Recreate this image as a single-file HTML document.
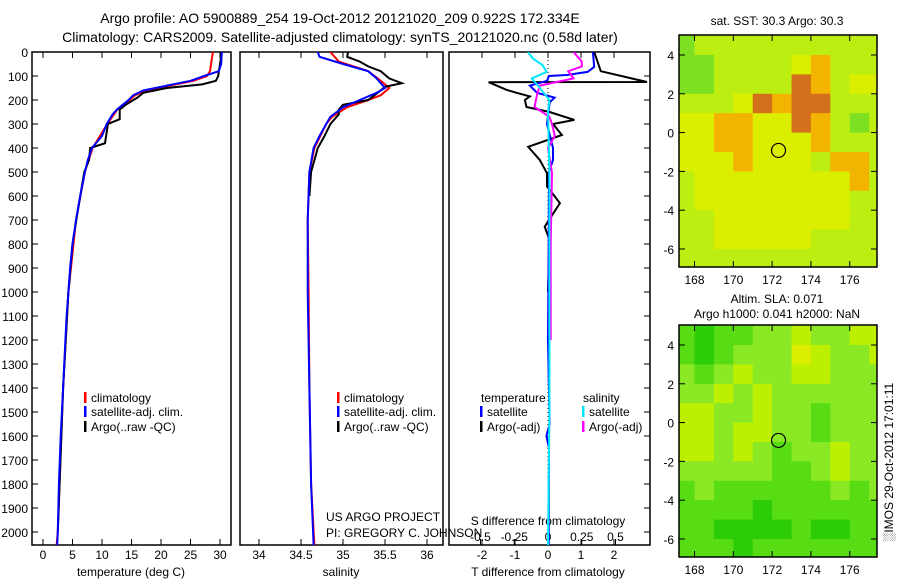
<!DOCTYPE html>
<html><head><meta charset="utf-8"><style>
html,body{margin:0;padding:0;background:#fff;}
svg{display:block;font-family:"Liberation Sans",sans-serif;}
</style></head><body>
<svg id="chart" width="900" height="580" viewBox="0 0 900 580" xmlns="http://www.w3.org/2000/svg"></svg>
<script>
// ---------- data ----------
const tempDepthBlue = [0,50,80,100,120,140,160,180,200,220,240,260,300,350,400,450,500,600,700,800,900,1000,1100,1200,1400,1600,1800,2000,2055];
const tempBlue = [30.3,30.2,29.8,27.3,25,21,17,15.3,14.5,13.5,12.5,11.8,10.8,10,8.3,7.6,7.1,6.3,5.6,5,4.6,4.3,4,3.8,3.4,3,2.7,2.5,2.4];
const tempDepthRed = [0,80,100,120,140,160,180,200,240,300,400,500,700,1000,1400,2000,2055];
const tempRed = [28.8,28.3,27.8,25.5,21.5,17.5,15.6,14.7,12.6,10.9,8.4,7.1,5.6,4.3,3.4,2.5,2.3];
const tempDepthBlack = [0,100,120,135,150,170,190,220,240,280,300,380,400,450,500,600,800,1000,1400,2000];
const tempBlack = [30.3,29.7,29.3,27,21,17,16,14,13,13,11,10.5,8,7.8,7,6.3,5,4.3,3.4,2.5];

const salDepthBlue = [0,20,50,80,110,150,170,200,230,270,300,350,400,500,700,1000,1400,1800,2055];
const salBlue = [34.70,34.72,35.0,35.3,35.4,35.5,35.4,35.2,35.0,34.85,34.8,34.72,34.65,34.6,34.58,34.58,34.6,34.62,34.65];
const salDepthRed = [0,40,80,120,150,180,200,230,270,300,400,500,700,1000,1400,1800,2055];
const salRed = [34.85,34.95,35.3,35.45,35.55,35.45,35.3,35.05,34.87,34.8,34.66,34.6,34.58,34.59,34.6,34.62,34.66];
const salDepthBlack = [0,20,40,60,80,110,130,145,160,200,220,240,260,300,350,400,500,600];
const salBlack = [35.06,35.05,35.2,35.3,35.45,35.55,35.7,35.5,35.45,35.3,35.0,34.95,34.95,34.85,34.78,34.7,34.62,34.6];

const tdDepthSat = [0,62,83,96,100,120,140,170,190,210,300,400,450,500,800,1200,1550,1600,1650,2055];
const tdSat = [1.36,1.4,1.2,0.57,0.03,-0.03,-0.55,-0.33,0.2,0.05,-0.03,0.15,0.15,0.03,0.02,0.0,0.05,-0.05,0.03,0.02];
const tdDepthArgo = [0,40,80,125,126,158,170,185,200,229,250,283,300,346,395,450,505,560,630,728,783,900,1000];
const tdArgo = [1.4,1.5,1.6,3.0,-1.8,-1.25,-0.95,-0.55,-0.7,-0.65,0.05,0.8,0.15,0.42,-0.6,-0.25,-0.03,-0.03,0.36,-0.1,0.05,0.02,0.0];
const sdDepthSat = [0,28,55,83,110,150,200,250,500,1000,1500,2055];
const sdSat = [-0.15,-0.11,-0.04,-0.01,-0.12,-0.06,0.01,0.0,0.01,0.01,0.01,0.0];
const sdDepthArgo = [0,20,40,60,80,110,140,175,229,270,300,350,400,505,800,1200];
const sdArgo = [0.19,0.22,0.25,0.25,0.15,0.19,-0.06,-0.08,-0.1,0.01,0.03,0.05,0.0,0.03,0.02,0.02];

const tempTicks = [0,5,10,15,20,25,30];
const salTicks = [34,34.5,35,35.5,36];
const salTickLabels = ["34","34.5","35","35.5","36"];
const tdTicks = [-2,-1,0,1,2];
const sdTicks = [-0.5,-0.25,0,0.25,0.5];
const sdTickLabels = ["-0.5","-0.25","0","0.25","0.5"];
const depthTicks = [0,100,200,300,400,500,600,700,800,900,1000,1100,1200,1300,1400,1500,1600,1700,1800,1900,2000];
const lonTicks = [168,170,172,174,176];
const latTicks = [4,2,0,-2,-4,-6];

// map grids: 1-degree cells, lon 167..178, lat rows 5..-7
const sstGrid = [
[0,1,1,1,1,1,1,1,1,1,1],
[0,0,1,1,1,1,2,3,1,1,1],
[0,0,1,1,1,1,4,3,1,2,2],
[1,1,1,2,4,3,4,4,1,1,1],
[2,2,3,3,2,2,4,3,1,0,1],
[2,2,3,3,2,2,2,3,1,1,1],
[2,2,2,3,2,2,2,1,3,3,1],
[1,2,2,2,2,2,2,2,2,3,1],
[1,2,2,2,2,2,2,2,2,1,1],
[1,1,2,2,2,2,2,2,2,1,1],
[1,1,2,2,2,2,2,1,1,1,1],
[1,1,1,1,1,1,1,1,1,1,1]];
const slaGrid = [
[1,0,1,1,2,2,3,2,2,3,3],
[1,0,1,2,2,2,4,3,2,2,3],
[2,1,2,3,2,2,3,3,2,2,2],
[2,2,3,2,3,2,2,2,2,2,2],
[3,3,2,2,3,2,2,1,2,2,2],
[3,3,2,3,3,2,2,1,2,2,2],
[3,3,2,3,2,1,2,2,3,2,2],
[2,2,2,2,2,1,1,2,3,2,2],
[1,2,1,1,1,1,1,1,2,1,2],
[1,1,1,1,0,1,1,1,1,1,1],
[1,1,0,0,0,0,1,0,0,1,1],
[1,1,1,0,1,1,1,1,1,1,1]];
const sstColors = ["#7ee022","#bcee12","#dcee00","#f2b400","#d4701c"];
const slaColors = ["#2ccc08","#58dc14","#8ae824","#bcf000","#dcee00"];

// ---------- helpers ----------
const NS="http://www.w3.org/2000/svg";
const svg=document.getElementById('chart');
function el(tag,attrs,parent){const e=document.createElementNS(NS,tag);for(const k in attrs)e.setAttribute(k,attrs[k]);(parent||svg).appendChild(e);return e;}
function txt(x,y,s,anchor,size,parent){const t=el('text',{x:x,y:y,'text-anchor':anchor||'start','font-size':size||12,fill:'#000'},parent);t.textContent=s;return t;}

const TOP=52, BOT=545;
function yD(d){return TOP+d*0.24;}
const xT=v=>43+v*5.9;
const xS=v=>259+(v-34)*84;
const xTD=v=>548+v*33;
const xSD=v=>548+v*135;

function line(xs,ds,xf,color,w,name,clipId){
  let p='';for(let i=0;i<xs.length;i++){p+=(i?'L':'M')+xf(xs[i]).toFixed(1)+','+yD(ds[i]).toFixed(1);}
  const e=el('path',{d:p,fill:'none',stroke:color,'stroke-width':w,'clip-path':'url(#'+clipId+')'});
  
  
  return e;
}

const defs=el('defs',{});
function clip(id,x,y,w,h){const c=el('clipPath',{id:id},defs);el('rect',{x:x,y:y,width:w,height:h},c);}
clip('c1',32,TOP,199,BOT-TOP);clip('c2',240,TOP,203,BOT-TOP);clip('c3',449,TOP,201,BOT-TOP);
clip('m1',679,35,198,232);clip('m2',679,325,198,232);

// titles
const t1=txt(340,23,'Argo profile: AO 5900889_254 19-Oct-2012 20121020_209 0.922S 172.334E','middle',14);

const t2=txt(340,42,'Climatology: CARS2009. Satellite-adjusted climatology: synTS_20121020.nc (0.58d later)','middle',14);


// panels
const panels=[[32,231,'temperature-panel'],[240,443,'salinity-panel'],[449,650,'difference-panel']];
panels.forEach(p=>{const r=el('rect',{x:p[0],y:TOP,width:p[1]-p[0],height:BOT-TOP,fill:'none',stroke:'#000','stroke-width':1.5});
  });

// depth ticks
depthTicks.forEach(d=>{const y=yD(d);txt(28,y+5,String(d),'end',12);
  el('line',{x1:32,x2:38,y1:y,y2:y,stroke:'#000'});el('line',{x1:644,x2:650,y1:y,y2:y,stroke:'#000'});});

// x ticks
function xticks(vals,labels,xf,ly,top){vals.forEach((v,i)=>{const x=xf(v);
  el('line',{x1:x,x2:x,y1:BOT,y2:BOT-6,stroke:'#000'});if(top)el('line',{x1:x,x2:x,y1:TOP,y2:TOP+6,stroke:'#000'});
  txt(x,ly,labels?labels[i]:String(v),'middle',12);});}
xticks(tempTicks,null,xT,559,true);
xticks(salTicks,salTickLabels,xS,559,true);
xticks(tdTicks,null,xTD,559,true);
xticks(sdTicks,sdTickLabels,xSD,541,false);
txt(131,576,'temperature (deg C)','middle',12);
txt(341,576,'salinity','middle',12);
txt(548,576,'T difference from climatology','middle',12);
txt(548,525,'S difference from climatology','middle',12);
// zero dotted line
el('line',{x1:548,x2:548,y1:TOP,y2:BOT,stroke:'#000','stroke-dasharray':'1,3'});

// series
line(tempRed,tempDepthRed,xT,'#ff0000',2,'temp-climatology-line','c1');
line(tempBlack,tempDepthBlack,xT,'#000',2,'temp-argo-line','c1');
line(tempBlue,tempDepthBlue,xT,'#0000ff',2,'temp-satellite-line','c1');
line(salRed,salDepthRed,xS,'#ff0000',2,'sal-climatology-line','c2');
line(salBlack,salDepthBlack,xS,'#000',2,'sal-argo-line','c2');
line(salBlue,salDepthBlue,xS,'#0000ff',2,'sal-satellite-line','c2');
line(tdArgo,tdDepthArgo,xTD,'#000',2,'tdiff-argo-line','c3');
line(tdSat,tdDepthSat,xTD,'#0000ff',2,'tdiff-satellite-line','c3');
line(sdArgo,sdDepthArgo,xSD,'#ff00ff',2,'sdiff-argo-line','c3');
line(sdSat,sdDepthSat,xSD,'#00e8ff',2,'sdiff-satellite-line','c3');

// legends
function legend(x,y,color,label,name){const g=el('g',{});
  el('rect',{x:x,y:y-10,width:2.5,height:11,fill:color},g);txt(x+7,y,label,'start',12,g);}
[[84,'p1'],[337,'p2']].forEach(([x,p])=>{
  legend(x,402,'#ff0000','climatology','legend-'+p+'-climatology');
  legend(x,416,'#0000ff','satellite-adj. clim.','legend-'+p+'-satellite');
  legend(x,431,'#000','Argo(..raw -QC)','legend-'+p+'-argo');});
txt(481,402,'temperature','start',12);txt(583,402,'salinity','start',12);
legend(480,416,'#0000ff','satellite','legend-t-satellite');
legend(480,431,'#000','Argo(-adj)','legend-t-argo');
legend(582,416,'#00e8ff','satellite','legend-s-satellite');
legend(582,431,'#ff00ff','Argo(-adj)','legend-s-argo');
txt(326,521,'US ARGO PROJECT','start',12);
txt(326,537,'PI: GREGORY C. JOHNSON','start',12);

// maps
function drawMap(grid,colors,top,name,clipId){
  const lonL=167.2,lonR=177.4,latT=5.03,pxd=19.4,left=679;
  const xL=lon=>left+(lon-lonL)*pxd, yL=lat=>top+(latT-lat)*pxd;
  const g=el('g',{'clip-path':'url(#'+clipId+')'});
  
  grid.forEach((row,r)=>row.forEach((v,c)=>{
    const lon=167+c,lat=5-r;
    el('rect',{x:xL(lon),y:yL(lat),width:pxd+0.5,height:pxd+0.5,fill:colors[v]},g);}));
  const c=el('circle',{cx:xL(172.33),cy:yL(-0.92),r:7,fill:'none',stroke:'#000','stroke-width':1.2});
  
  el('rect',{x:left,y:top,width:198,height:232,fill:'none',stroke:'#000','stroke-width':1.5});
  lonTicks.forEach(l=>{const x=xL(l);el('line',{x1:x,x2:x,y1:top+232,y2:top+226,stroke:'#000'});
    el('line',{x1:x,x2:x,y1:top,y2:top+6,stroke:'#000'});txt(x,top+249,String(l),'middle',12);});
  latTicks.forEach(l=>{const y=yL(l);el('line',{x1:left,x2:left+6,y1:y,y2:y,stroke:'#000'});
    el('line',{x1:left+198,x2:left+192,y1:y,y2:y,stroke:'#000'});txt(left-5,y+5,String(l),'end',12);});
}
drawMap(sstGrid,sstColors,35,'sst-map','m1');
drawMap(slaGrid,slaColors,325,'sla-map','m2');
txt(777,25,'sat. SST: 30.3 Argo: 30.3','middle',12);
txt(777,303,'Altim. SLA: 0.071','middle',12);
txt(777,318,'Argo h1000: 0.041 h2000: NaN','middle',12);
const v=txt(0,0,'\u2591IMOS 29-Oct-2012 17:01:11','middle',12);
v.setAttribute('transform','translate(893,462) rotate(-90)');

</script>
</body></html>
